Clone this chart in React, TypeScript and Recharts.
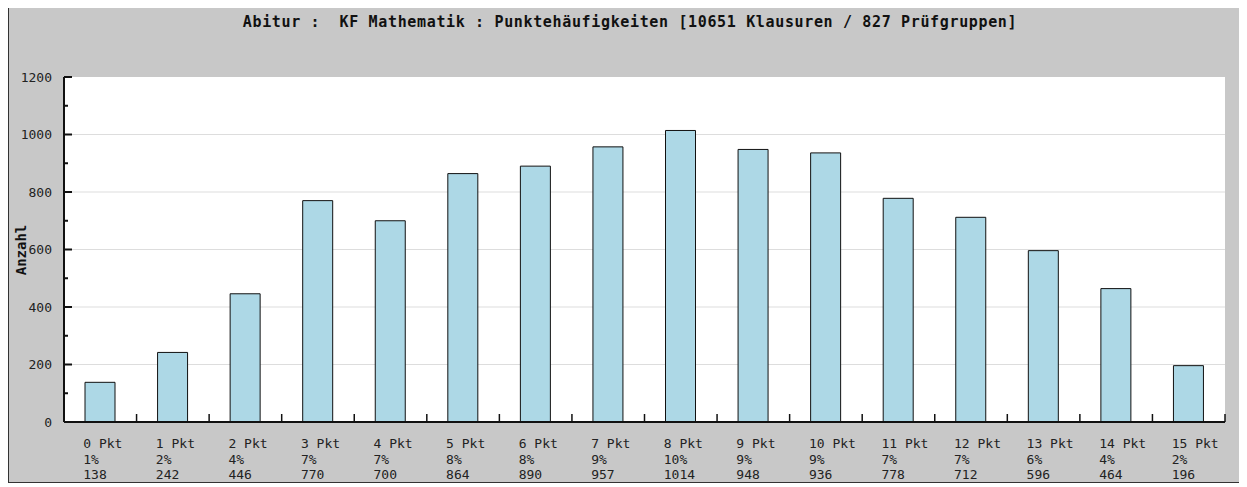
import { Bar, BarChart, CartesianGrid, XAxis, YAxis } from 'recharts'

const points = ['0 Pkt', '1 Pkt', '2 Pkt', '3 Pkt', '4 Pkt', '5 Pkt', '6 Pkt', '7 Pkt', '8 Pkt', '9 Pkt', '10 Pkt', '11 Pkt', '12 Pkt', '13 Pkt', '14 Pkt', '15 Pkt']
const percents = [1, 2, 4, 7, 7, 8, 8, 9, 10, 9, 9, 7, 7, 6, 4, 2]
const counts = [138, 242, 446, 770, 700, 864, 890, 957, 1014, 948, 936, 778, 712, 596, 464, 196]
const yTicks = [0, 100, 200, 300, 400, 500, 600, 700, 800, 900, 1000, 1100, 1200]
const gridValues = [200, 400, 600, 800, 1000]

const data = points.map((label, i) => ({ label, pct: percents[i], count: counts[i] }))

const CHART_W = 1234
const CHART_H = 474
const MARGIN = { top: 69, right: 18, left: 0, bottom: 0 }
const Y_AXIS_W = 55
const BAR_SIZE = 30
const PLOT_W = CHART_W - MARGIN.left - MARGIN.right - Y_AXIS_W
const HALF_CAT = PLOT_W / points.length / 2

const FONT = '"DejaVu Sans Mono", monospace'

function YTick(props: any) {
  const { x, y, payload } = props
  const major = payload.value % 200 === 0
  return (
    <g>
      <line x1={x} x2={x + (major ? 8 : 4)} y1={y} y2={y} stroke='#111' strokeWidth={2} />
      {major && (
        <text x={x - 12} y={y + 4.5} textAnchor='end' fontSize={13} fontFamily={FONT} fill='#222'>
          {payload.value}
        </text>
      )}
    </g>
  )
}

function XTick(props: any) {
  const { x, y, index } = props
  const left = x - BAR_SIZE / 2 - 2
  return (
    <g>
      <line x1={x + HALF_CAT} x2={x + HALF_CAT} y1={y} y2={y - 8} stroke='#111' strokeWidth={1.5} />
      <text fontSize={13} fontFamily={FONT} fill='#222'>
        <tspan x={left} y={y + 26}>{points[index]}</tspan>
        <tspan x={left} y={y + 42}>{percents[index]}%</tspan>
        <tspan x={left} y={y + 57}>{counts[index]}</tspan>
      </text>
    </g>
  )
}

export default function App() {
  return (
    <div
      style={{
        position: 'relative',
        width: 1236,
        height: 476,
        marginTop: -1,
        boxSizing: 'border-box',
        background: '#c8c8c8',
        border: '1px solid #333',
        boxShadow: '4px 4px 0 #555',
        overflow: 'hidden',
      }}
    >
      <BarChart width={CHART_W} height={CHART_H} data={data} margin={MARGIN}>
        <text
          x={621}
          y={19}
          textAnchor='middle'
          fontSize={15}
          fontWeight='bold'
          fontFamily={FONT}
          letterSpacing={0.65}
          fill='#111'
          style={{ whiteSpace: 'pre' }}
        >
          {'Abitur :  KF Mathematik : Punktehäufigkeiten [10651 Klausuren / 827 Prüfgruppen]'}
        </text>
        <text
          x={12}
          y={242}
          transform='rotate(-90 12 242)'
          textAnchor='middle'
          dominantBaseline='central'
          fontSize={14}
          fontWeight='bold'
          fontFamily={FONT}
          fill='#111'
        >
          Anzahl
        </text>
        <CartesianGrid fill='#ffffff' vertical={false} horizontalValues={gridValues} stroke='#dddddd' />
        <XAxis
          dataKey='label'
          height={60}
          interval={0}
          tickLine={false}
          tickSize={0}
          tickMargin={0}
          axisLine={{ stroke: '#111', strokeWidth: 2 }}
          tick={<XTick />}
        />
        <YAxis
          width={Y_AXIS_W}
          domain={[0, 1200]}
          ticks={yTicks}
          interval={0}
          tickLine={false}
          tickSize={0}
          tickMargin={0}
          axisLine={{ stroke: '#111', strokeWidth: 2 }}
          tick={<YTick />}
        />
        <Bar dataKey='count' barSize={BAR_SIZE} fill='#add8e6' stroke='#111' strokeWidth={1} isAnimationActive={false} />
      </BarChart>
    </div>
  )
}
